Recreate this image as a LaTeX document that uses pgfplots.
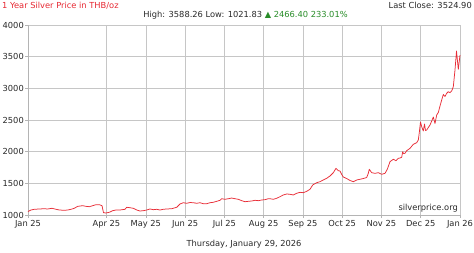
\documentclass[border=0pt]{standalone}
\usepackage{pgfplots}
\pgfplotsset{compat=1.18}
\usepackage{fontspec}
\setmainfont{DejaVu Sans}
\definecolor{linered}{RGB}{232,45,55}
\definecolor{titlered}{RGB}{230,40,50}
\definecolor{upgreen}{RGB}{40,140,40}
\definecolor{gridgray}{RGB}{198,198,198}
\definecolor{txt}{RGB}{40,40,40}
\newcommand{\fs}{\fontsize{8.3}{10}\selectfont}
\begin{document}
\begin{tikzpicture}
\path[use as bounding box] (0,0) rectangle (474pt,-252pt);
\begin{axis}[
  at={(28pt,-25pt)}, anchor=north west,
  scale only axis, width=432pt, height=190pt,
  xmin=0, xmax=432, ymin=1000, ymax=4000,
  xtick={0,78.5,117.8,157.1,196.4,235.6,274.9,314.2,353.4,392.7,432},
  xticklabels={Jan 25,Apr 25,May 25,Jun 25,Jul 25,Aug 25,Sep 25,Oct 25,Nov 25,Dec 25,Jan 26},
  ytick={1000,1500,2000,2500,3000,3500,4000},
  scaled y ticks=false,
  yticklabel style={/pgf/number format/1000 sep={}, inner sep=1pt},
  /pgf/number format/assume math mode=true,
  tick label style={font=\fs, text=txt},
  xticklabel style={inner sep=1pt, yshift=-1pt},
  grid=major,
  major grid style={gridgray, line width=0.55pt},
  axis line style={gridgray!75!gray, line width=0.6pt},
  tick style={gridgray!75!gray, line width=0.5pt},
  major tick length=3pt,
  tick align=outside,
  axis x line*=bottom, axis y line*=left,
  clip=false,
]
\addplot[linered, line width=0.75pt, line join=round] coordinates {
(0,1055) (3,1079) (6.3,1090) (11.3,1095) (16.3,1099) (19.7,1095) (24,1106) (28,1090)
(31.3,1079) (36.3,1074) (39.7,1079) (43,1090) (46.3,1106) (49.7,1137) (54.7,1147) (58,1137)
(61.3,1131) (64.7,1147) (68,1163) (71.3,1163) (74,1147) (75.5,1036) (78,1032) (81.3,1043)
(84.7,1068) (88,1079) (92,1079) (97,1090) (98.7,1122) (102,1115) (105.3,1106) (108.7,1079)
(112,1063) (115.3,1068) (118.7,1079) (122,1095) (125.3,1084) (128.7,1090) (132,1079)
(135.3,1090) (138.7,1095) (143.7,1099) (148.7,1122) (152,1174) (155.3,1194) (158.7,1185)
(162,1197) (165.3,1194) (168.7,1185) (172,1194) (175.3,1178) (178.7,1178) (182,1194)
(185.3,1201) (188.7,1216) (192,1232) (193.7,1257) (197,1248) (200.3,1257) (203.7,1268)
(207,1257) (210.3,1248) (213.7,1226) (217,1210) (220.3,1216) (223.7,1221) (227,1232)
(230.3,1226) (233.7,1237) (237,1242) (240.3,1257) (242,1257) (245.3,1248) (248.7,1264)
(252,1289) (255.3,1316) (258.7,1332) (262,1327) (265.3,1316) (268.7,1343) (272,1358)
(275.3,1352) (278.7,1374) (282,1406) (284.7,1474) (288.7,1510) (292,1526) (295.3,1553)
(298.7,1580) (302,1616) (305.3,1668) (308,1737) (310.3,1700) (312,1695) (313.7,1640)
(315.3,1600) (318.7,1576) (322,1545) (325.3,1526) (328.7,1553) (332,1564) (335.3,1576)
(338.7,1592) (340.3,1658) (341.3,1722) (343.7,1668) (347,1658) (350.3,1668) (353.7,1643)
(357,1658) (359.3,1722) (362,1842) (365.3,1880) (368,1857) (370.3,1895) (372,1900)
(373.7,1911) (374.7,2000) (375.5,1971) (377,1974) (378.7,2015) (382,2053) (385.3,2116)
(388.7,2142) (390.3,2184) (391,2263) (392.5,2468) (393.7,2394) (395.3,2326) (396.5,2437)
(397.5,2334) (398.7,2342) (402,2421) (403.7,2484) (405.3,2547) (407,2445) (408.7,2579)
(410.3,2618) (412,2721) (413.7,2816) (415.3,2903) (417,2871) (418.7,2922) (420.3,2947)
(422,2931) (423.7,2958) (425.3,3026) (427,3290) (428.5,3588) (430.3,3300) (432,3525)
};
\node[anchor=south east, inner sep=1pt, font=\fs, text=txt] at (rel axis cs:1,0) [xshift=-1pt, yshift=2pt] {silverprice.org};
\end{axis}
\node[anchor=west, inner sep=0pt, font=\fs, text=titlered] at (2pt,-5.5pt) {1 Year Silver Price in THB/oz};
\node[anchor=east, inner sep=0pt, font=\fs, text=txt] at (472pt,-5.5pt) {Last Close: 3524.90};
\node[anchor=center, inner sep=0pt, font=\fs, text=txt] at (245.5pt,-15.5pt) {High: 3588.26 Low: 1021.83 \textcolor{upgreen}{▲ 2466.40 233.01\%}};
\node[anchor=center, inner sep=0pt, font=\fs, text=txt] at (244pt,-244pt) {Thursday, January 29, 2026};
\end{tikzpicture}
\end{document}
